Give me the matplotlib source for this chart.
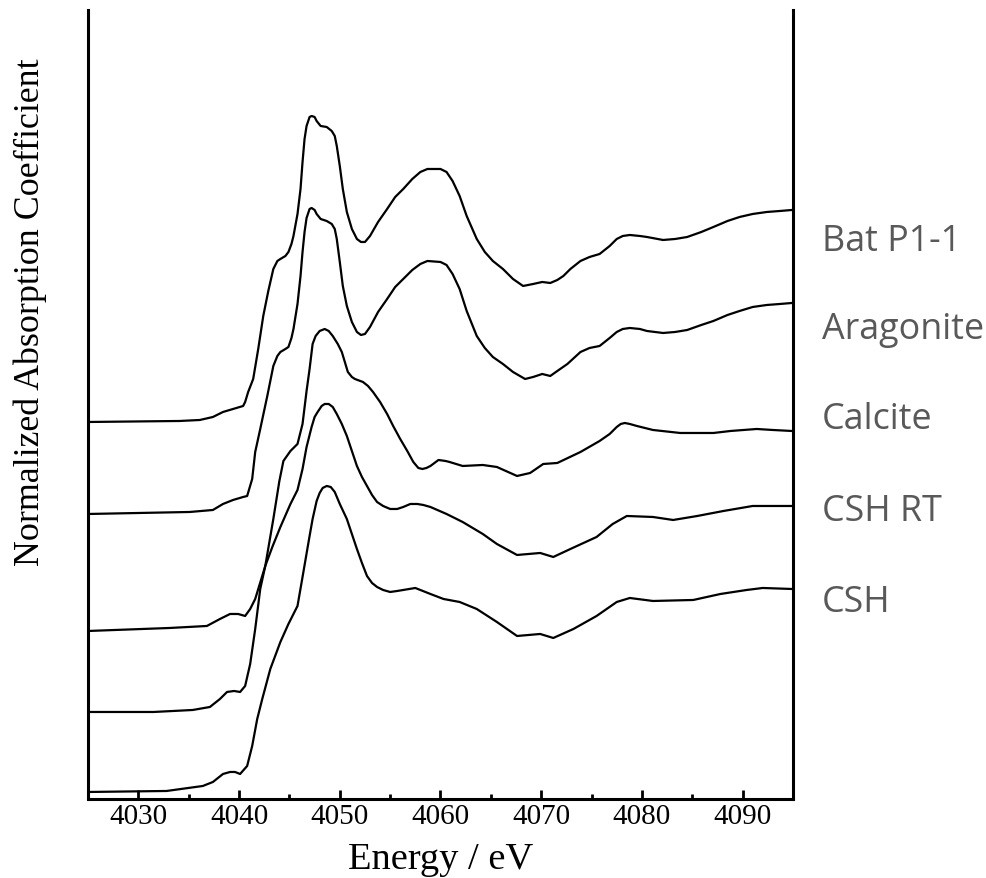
import numpy as np
import matplotlib.pyplot as plt

# XANES spectra, Ca K-edge, values as (energy eV, normalized mu)
bat = [(4025.0, 0.00), (4034.1, 0.01), (4036.1, 0.02), (4037.4, 0.05), (4038.4, 0.10), (4039.4, 0.13),
       (4040.4, 0.16), (4040.6, 0.20), (4040.9, 0.30), (4041.4, 0.43), (4041.9, 0.73), (4042.4, 1.06),
       (4042.9, 1.31), (4043.4, 1.53), (4043.8, 1.61), (4044.1, 1.63), (4044.6, 1.66), (4044.9, 1.70),
       (4045.2, 1.78), (4045.4, 1.86), (4045.8, 2.08), (4046.1, 2.33), (4046.3, 2.60), (4046.5, 2.83),
       (4046.7, 2.96), (4047.0, 3.05), (4047.2, 3.06), (4047.5, 3.05), (4047.7, 3.01), (4048.1, 2.96),
       (4048.7, 2.95), (4049.2, 2.91), (4049.5, 2.86), (4049.7, 2.76), (4050.0, 2.56), (4050.3, 2.33),
       (4050.7, 2.10), (4051.2, 1.93), (4051.7, 1.83), (4052.1, 1.80), (4052.5, 1.80), (4053.0, 1.86),
       (4053.8, 2.00), (4054.7, 2.13), (4055.5, 2.25), (4056.3, 2.33), (4057.2, 2.43), (4058.0, 2.50),
       (4058.7, 2.53), (4060.0, 2.53), (4060.6, 2.50), (4061.2, 2.41), (4061.9, 2.26), (4062.6, 2.06),
       (4063.6, 1.83), (4064.4, 1.70), (4065.2, 1.61), (4066.2, 1.53), (4067.2, 1.43), (4068.2, 1.36),
       (4069.2, 1.38), (4070.1, 1.40), (4070.9, 1.39), (4071.6, 1.42), (4072.2, 1.46), (4072.9, 1.53),
       (4073.9, 1.61), (4074.8, 1.65), (4075.8, 1.68), (4076.8, 1.76), (4077.5, 1.83), (4078.1, 1.86),
       (4078.8, 1.87), (4079.8, 1.86), (4080.5, 1.85), (4082.1, 1.82), (4083.3, 1.83), (4084.5, 1.85),
       (4085.9, 1.90), (4087.1, 1.95), (4088.5, 2.01), (4089.7, 2.05), (4091.0, 2.08), (4092.4, 2.10),
       (4093.7, 2.11), (4094.9, 2.12)]

aragonite = [(4025.0, 0.00), (4035.1, 0.02), (4037.4, 0.04), (4038.4, 0.10), (4039.4, 0.14), (4040.4, 0.17),
             (4040.8, 0.18), (4041.3, 0.35), (4041.6, 0.62), (4042.1, 0.85), (4042.8, 1.18), (4043.4, 1.48),
             (4043.8, 1.58), (4044.1, 1.62), (4044.6, 1.65), (4044.9, 1.67), (4045.2, 1.76), (4045.4, 1.85),
             (4045.8, 2.10), (4046.1, 2.38), (4046.3, 2.62), (4046.5, 2.82), (4046.7, 2.96), (4047.0, 3.05),
             (4047.2, 3.06), (4047.5, 3.04), (4047.7, 3.00), (4048.1, 2.95), (4048.7, 2.93), (4049.2, 2.90),
             (4049.5, 2.85), (4049.7, 2.75), (4050.0, 2.52), (4050.3, 2.28), (4050.7, 2.08), (4051.2, 1.92),
             (4051.7, 1.82), (4052.1, 1.79), (4052.5, 1.80), (4053.0, 1.87), (4053.8, 2.02), (4054.7, 2.15),
             (4055.5, 2.27), (4056.3, 2.35), (4057.2, 2.44), (4058.0, 2.50), (4058.7, 2.53), (4060.0, 2.52),
             (4060.6, 2.49), (4061.2, 2.40), (4061.9, 2.25), (4062.6, 2.03), (4063.6, 1.78), (4064.4, 1.66),
             (4065.2, 1.57), (4066.2, 1.50), (4067.2, 1.42), (4068.4, 1.35), (4069.2, 1.37), (4070.1, 1.40),
             (4070.9, 1.38), (4071.6, 1.43), (4072.6, 1.50), (4073.9, 1.62), (4074.8, 1.66), (4075.8, 1.68),
             (4076.8, 1.76), (4077.5, 1.82), (4078.1, 1.85), (4078.8, 1.86), (4079.8, 1.85), (4080.5, 1.83),
             (4082.1, 1.81), (4083.3, 1.82), (4084.5, 1.84), (4085.9, 1.89), (4087.1, 1.93), (4088.5, 1.99),
             (4089.7, 2.03), (4091.0, 2.07), (4092.4, 2.09), (4093.7, 2.10), (4094.9, 2.11)]

calcite = [(4025.0, 0.00), (4033.1, 0.03), (4036.8, 0.05), (4038.1, 0.12), (4039.1, 0.17), (4039.9, 0.17),
           (4040.6, 0.15), (4041.1, 0.22), (4041.6, 0.32), (4042.6, 0.65), (4043.4, 1.12), (4044.0, 1.50),
           (4044.4, 1.70), (4045.1, 1.80), (4045.8, 1.87), (4046.3, 2.07), (4046.7, 2.40), (4047.0, 2.62),
           (4047.3, 2.87), (4047.6, 2.95), (4048.0, 3.00), (4048.5, 3.02), (4048.9, 3.00), (4049.3, 2.95),
           (4049.8, 2.87), (4050.2, 2.79), (4050.5, 2.69), (4050.8, 2.59), (4051.2, 2.54), (4051.5, 2.52),
           (4052.3, 2.49), (4052.8, 2.45), (4053.3, 2.39), (4054.0, 2.29), (4054.7, 2.17), (4055.3, 2.05),
           (4056.0, 1.92), (4056.7, 1.80), (4057.3, 1.69), (4057.8, 1.63), (4058.2, 1.62), (4058.6, 1.63),
           (4059.0, 1.65), (4059.8, 1.71), (4060.5, 1.70), (4060.9, 1.69), (4062.2, 1.65), (4064.2, 1.66),
           (4065.6, 1.64), (4067.6, 1.55), (4068.9, 1.58), (4070.2, 1.67), (4071.6, 1.68), (4073.9, 1.79),
           (4075.8, 1.90), (4076.8, 1.97), (4077.5, 2.04), (4077.9, 2.07), (4078.3, 2.08), (4078.8, 2.07),
           (4079.5, 2.05), (4080.3, 2.03), (4081.1, 2.01), (4083.8, 1.98), (4087.1, 1.98), (4088.8, 2.00),
           (4091.4, 2.02), (4093.0, 2.01), (4094.9, 2.00)]

csh_rt = [(4025.0, 0.00), (4031.5, 0.00), (4035.4, 0.02), (4037.1, 0.05), (4038.1, 0.13), (4038.8, 0.20),
          (4039.5, 0.21), (4040.1, 0.20), (4040.6, 0.26), (4041.1, 0.48), (4041.6, 0.83), (4042.1, 1.23),
          (4042.6, 1.46), (4043.3, 1.65), (4044.1, 1.85), (4045.1, 2.08), (4045.8, 2.22), (4046.3, 2.43),
          (4046.7, 2.65), (4047.2, 2.85), (4047.5, 2.95), (4047.8, 3.00), (4048.2, 3.06), (4048.5, 3.08),
          (4048.9, 3.08), (4049.3, 3.05), (4049.7, 2.98), (4050.2, 2.88), (4050.7, 2.76), (4051.2, 2.61),
          (4051.7, 2.46), (4052.2, 2.35), (4052.7, 2.26), (4053.2, 2.17), (4053.7, 2.10), (4054.3, 2.06),
          (4055.0, 2.03), (4055.7, 2.03), (4056.3, 2.05), (4057.0, 2.08), (4057.7, 2.08), (4058.3, 2.07),
          (4059.0, 2.05), (4060.6, 1.98), (4062.2, 1.90), (4064.2, 1.78), (4065.6, 1.68), (4067.6, 1.57),
          (4069.9, 1.59), (4071.2, 1.55), (4072.9, 1.63), (4075.5, 1.75), (4077.1, 1.88), (4078.5, 1.96),
          (4081.1, 1.95), (4083.1, 1.92), (4085.5, 1.96), (4088.1, 2.01), (4091.0, 2.06), (4093.0, 2.06),
          (4094.9, 2.06)]

csh = [(4025.0, 0.00), (4032.8, 0.01), (4036.4, 0.06), (4037.4, 0.10), (4038.4, 0.18), (4039.1, 0.20),
       (4039.6, 0.20), (4040.1, 0.18), (4040.8, 0.26), (4041.3, 0.46), (4041.8, 0.73), (4042.3, 0.93),
       (4043.1, 1.23), (4044.1, 1.50), (4044.9, 1.68), (4045.8, 1.86), (4046.3, 2.15), (4047.0, 2.56),
       (4047.3, 2.73), (4047.7, 2.91), (4048.0, 2.99), (4048.3, 3.04), (4048.7, 3.06), (4049.1, 3.05),
       (4049.5, 3.00), (4050.0, 2.88), (4050.7, 2.73), (4051.2, 2.58), (4051.7, 2.43), (4052.2, 2.29),
       (4052.7, 2.16), (4053.2, 2.09), (4053.7, 2.05), (4054.3, 2.02), (4055.0, 2.00), (4055.7, 2.01),
       (4056.3, 2.02), (4057.5, 2.04), (4059.0, 1.98), (4060.3, 1.93), (4061.9, 1.90), (4063.6, 1.83),
       (4065.6, 1.70), (4067.6, 1.56), (4069.9, 1.58), (4071.2, 1.54), (4073.2, 1.63), (4075.5, 1.76),
       (4077.5, 1.90), (4078.8, 1.94), (4081.1, 1.91), (4085.1, 1.92), (4087.8, 1.98), (4090.4, 2.02),
       (4092.0, 2.04), (4094.9, 2.03)]

names = ["Bat P1-1", "Aragonite", "Calcite", "CSH RT", "CSH"]
offsets = [3.77, 2.85, 1.68, 0.87, 0.07]
label_y = [5.58, 4.70, 3.80, 2.88, 1.97]
spectra = [bat, aragonite, calcite, csh_rt, csh]

fig = plt.figure(figsize=(9.87, 8.79), dpi=100)
ax = fig.add_axes([0.0892, 0.0899, 0.7142, 0.8976])

for sp, off in zip(spectra, offsets):
    e, mu = np.array(sp).T
    ax.plot(e, mu + off, color="black", lw=1.6)

for name, yl in zip(names, label_y):
    ax.text(4097.9, yl, name, fontsize=25.8, family="Open Sans", color="#595959",
            ha="left", va="center", clip_on=False)

ax.set_xlim(4025, 4095)
ax.set_ylim(0, 7.89)
ax.set_xticks(np.arange(4030, 4091, 10))
ax.set_xticks(np.arange(4035, 4095, 10), minor=True)
ax.set_yticks([])
ax.spines["top"].set_visible(False)
for s in ["left", "right", "bottom"]:
    ax.spines[s].set_linewidth(2.2)
ax.tick_params(axis="x", which="major", direction="in", length=6.5, width=2, pad=3,
               labelsize=21)
ax.tick_params(axis="x", which="minor", direction="in", length=3.5, width=2)
for lab in ax.get_xticklabels():
    lab.set_family("Liberation Serif")

ax.set_xlabel("Energy / eV", family="Liberation Serif", fontsize=27.7, labelpad=9)
ax.set_ylabel("Normalized Absorption Coefficient", family="Liberation Serif", fontsize=25.8)
ax.yaxis.set_label_coords(-0.058, 0.618)

fig.savefig("out.png", dpi=100)
